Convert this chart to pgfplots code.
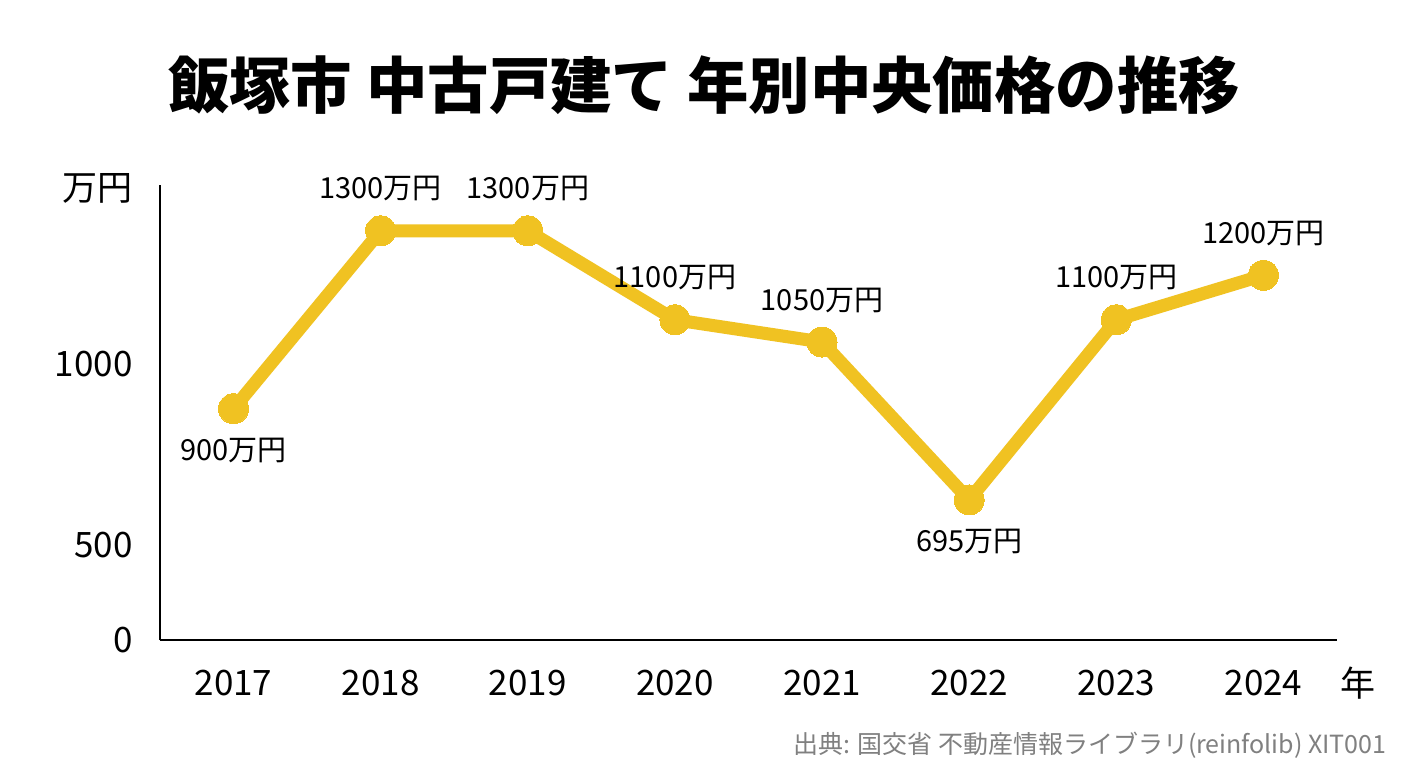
\documentclass[border=0pt]{standalone}
\usepackage{pgfplots}
\pgfplotsset{compat=1.18}
\usepackage{fontspec}
\setmainfont{Noto Sans CJK JP}
\definecolor{lineY}{RGB}{240,194,34}
\definecolor{srcgray}{RGB}{128,128,128}
\begin{document}
\begin{tikzpicture}[x=1pt,y=1pt]
\useasboundingbox[fill=white] (0,0) rectangle (704,384);
\node[font=\fontsize{30.7}{36}\selectfont\bfseries] at (352,341.5) {飯塚市 中古戸建て 年別中央価格の推移};
\node[font=\fontsize{17.5}{20}\selectfont, anchor=east, inner sep=0pt] at (66.5,290) {万円};
\node[font=\fontsize{17.5}{20}\selectfont, inner sep=0pt] at (679,42.5) {年};
\node[font=\fontsize{12.5}{15}\selectfont, text=srcgray, anchor=east, inner sep=0pt] at (693.5,11.5) {出典: 国交省 不動産情報ライブラリ(reinfolib) XIT001};
\begin{axis}[
  at={(80pt,64pt)}, anchor=south west,
  scale only axis, width=588.5pt, height=227.5pt,
  xmin=-0.5, xmax=7.5, ymin=380, ymax=1403,
  axis x line*=bottom, axis y line*=left,
  axis line style={line width=1.4pt, -},
  xtick={0,1,2,3,4,5,6,7},
  xticklabels={2017,2018,2019,2020,2021,2022,2023,2024},
  ytick={380,594,1000}, yticklabels={0,500,1000},
  major tick length=0pt,
  tick label style={font=\fontsize{17.5}{20}\selectfont, inner sep=0pt},
  xticklabel style={anchor=center, yshift=-21.5pt},
  yticklabel style={anchor=east, xshift=-13.5pt},
  clip=false,
]
\addplot[color=lineY, line width=6.5pt, mark=*, mark size=7.5pt, mark options={fill=lineY, draw=lineY, line width=0pt}]
 table {
x y
0 900
1 1300
2 1300
3 1100
4 1050
5 695
6 1100
7 1200
};
% labels above
\addplot[draw=none, mark=none, point meta=explicit symbolic,
  nodes near coords={\pgfplotspointmeta 万円},
  every node near coord/.append style={font=\fontsize{14.5}{17}\selectfont, anchor=center, yshift=21pt, text=black, inner sep=0pt}]
 table[meta=v] {
x y v
1 1300 1300
2 1300 1300
3 1100 1100
4 1050 1050
6 1100 1100
7 1200 1200
};
% labels below
\addplot[draw=none, mark=none, point meta=explicit symbolic,
  nodes near coords={\pgfplotspointmeta 万円},
  every node near coord/.append style={font=\fontsize{14.5}{17}\selectfont, anchor=center, yshift=-21pt, text=black, inner sep=0pt}]
 table[meta=v] {
x y v
0 900 900
5 695 695
};
\end{axis}
\end{tikzpicture}
\end{document}
